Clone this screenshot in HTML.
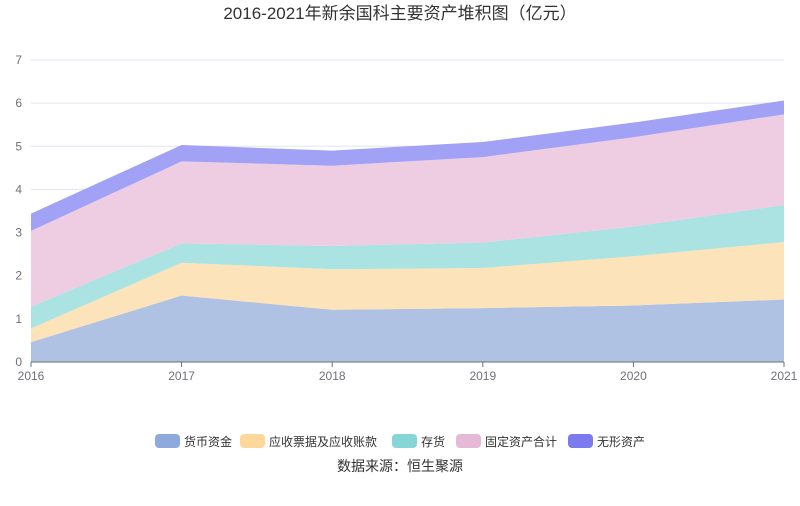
<!DOCTYPE html>
<html><head><meta charset="utf-8"><style>
body{margin:0;background:#fff;font-family:"Liberation Sans","Noto Sans CJK SC",sans-serif;}
svg text{font-family:"Liberation Sans","Noto Sans CJK SC",sans-serif;}
</style></head><body>
<svg id="chart" width="800" height="501">
<text x="400" y="19" text-anchor="middle" font-size="17" fill="#333">2016-2021年新余国科主要资产堆积图（亿元）</text>
<g id="grid"></g><g id="areas"></g><g id="axes"></g><g id="legend"></g>
<text x="400" y="471" text-anchor="middle" font-size="14" fill="#333">数据来源：恒生聚源</text>
</svg>
<script>
const years=["2016","2017","2018","2019","2020","2021"];
const yTicks=[0,1,2,3,4,5,6,7];
const seriesNames=["货币资金","应收票据及应收账款","存货","固定资产合计","无形资产"];
const cash=[0.46,1.54,1.21,1.25,1.31,1.45];
const receivables=[0.32,0.76,0.94,0.93,1.14,1.33];
const inventory=[0.50,0.45,0.54,0.59,0.69,0.86];
const fixedAssets=[1.76,1.90,1.86,1.98,2.07,2.10];
const intangible=[0.40,0.38,0.35,0.35,0.34,0.32];
const series=[cash,receivables,inventory,fixedAssets,intangible];
const colors=["#8ea9db","#fdd89a","#86d6d8","#e6b9d8","#7b7bef"];
const fills=["#afc2e4","#fde3b9","#abe2e2","#eecde2","#a1a1f5"];
const NS="http://www.w3.org/2000/svg";
const X0=31,X1=784,Y0=362,YMAX=7,YTOP=60;
const xs=i=>X0+(X1-X0)*i/(years.length-1);
const ys=v=>Y0-(Y0-YTOP)*v/YMAX;
function mk(tag,attrs,parent){const e=document.createElementNS(NS,tag);for(const k in attrs)e.setAttribute(k,attrs[k]);parent.appendChild(e);return e;}
const grid=document.getElementById('grid'),axes=document.getElementById('axes'),areas=document.getElementById('areas'),legend=document.getElementById('legend');
yTicks.forEach(t=>{
 if(t>0){const l=mk('line',{x1:X0,x2:X1,y1:ys(t),y2:ys(t),stroke:"#e0e6f1"},grid);
 
 }
 const tx=mk('text',{x:X0-9,y:ys(t)+4,'text-anchor':'end','font-size':12,fill:'#6e7079'},axes);tx.textContent=t;
 
 
});
let base=years.map(()=>0);
series.forEach((s,si)=>{
 const top=base.map((b,i)=>b+s[i]);
 let d="M"+years.map((_,i)=>xs(i)+","+ys(top[i])).join("L");
 for(let i=years.length-1;i>=0;i--)d+="L"+xs(i)+","+ys(base[i]);
 const p=mk('path',{d:d+"Z",fill:fills[si]},areas);
 
 
 base=top;
});
const ax=mk('line',{x1:X0,x2:X1,y1:Y0,y2:Y0,stroke:'#6e7079'},axes);


years.forEach((y,i)=>{
 const tk=mk('line',{x1:xs(i),x2:xs(i),y1:Y0,y2:Y0+5,stroke:'#6e7079'},axes);
 
 
 const t=mk('text',{x:xs(i),y:Y0+18,'text-anchor':'middle','font-size':12,fill:'#6e7079'},axes);t.textContent=y;
 
 
});
const lx=[155,240,392,456,568];
seriesNames.forEach((n,i)=>{
 const g=mk('g',{},legend);
 
 
 mk('rect',{x:lx[i],y:434,width:25,height:14,rx:4,fill:colors[i]},g);
 const t=mk('text',{x:lx[i]+29,y:446,'font-size':12,fill:'#333'},g);t.textContent=n;
});
</script>
</body></html>
